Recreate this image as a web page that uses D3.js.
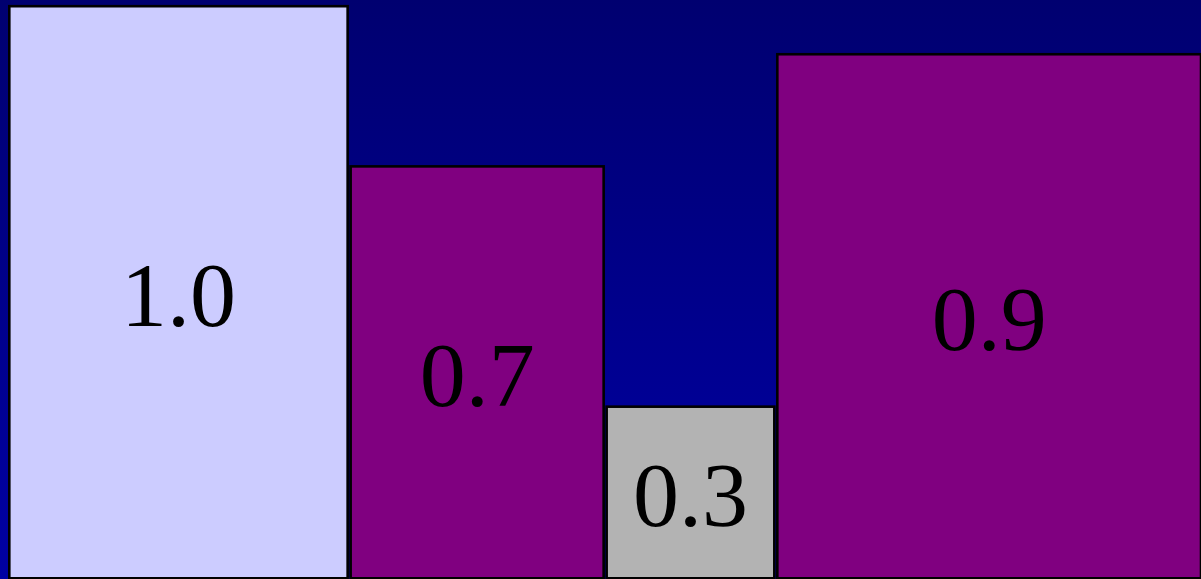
<!DOCTYPE html>
<html>
<head>
<meta charset="utf-8">
<script src="https://cdn.jsdelivr.net/npm/d3@7"></script>
<style>
html, body { margin: 0; padding: 0; overflow: hidden; background: #000080; }
svg { display: block; }
</style>
</head>
<body>
<svg id="chart" width="1201" height="579"></svg>
<script>
const categories = ["A", "B", "C", "D"];
const widths = [4, 3, 2, 5];
const values = [1.0, 0.72, 0.30, 0.916];
const colors = ["#ccccff", "#800080", "#b3b3b3", "#800080"];

const W = 1201, H = 579;
const svg = d3.select("#chart");

const defs = svg.append("defs");
const grad = defs.append("linearGradient").attr("id", "bg")
  .attr("x1", 0).attr("y1", 0).attr("x2", 0).attr("y2", 1);
grad.append("stop").attr("offset", "0%").attr("stop-color", "#000070");
grad.append("stop").attr("offset", "100%").attr("stop-color", "#0000a4");
svg.append("rect").attr("width", W).attr("height", H).attr("fill", "url(#bg)");

const total = d3.sum(widths);
const cum = d3.cumsum([0, ...widths]);
const x = d3.scaleLinear().domain([0, total]).range([7.8, 1202.5]);
const y = d3.scaleLinear().domain([0, 1]).range([578.3, 6.2]);
const gap = 1.5;
const fmt = d3.format(".1f");

const data = categories.map((c, i) => ({
  c, v: values[i], x0: cum[i], x1: cum[i + 1], color: colors[i]
}));

const g = svg.append("g");
g.selectAll("rect.bar").data(data).join("rect")
  .attr("class", "bar")
  .attr("x", d => x(d.x0) + gap)
  .attr("width", d => x(d.x1) - x(d.x0) - 2 * gap)
  .attr("y", d => y(d.v))
  .attr("height", d => y(0) - y(d.v))
  .attr("fill", d => d.color)
  .attr("stroke", "#000")
  .attr("stroke-width", 2.6);

g.selectAll("text.lbl").data(data).join("text")
  .attr("class", "lbl")
  .attr("x", d => (x(d.x0) + x(d.x1)) / 2)
  .attr("y", d => (y(d.v) + y(0)) / 2 + 3)
  .attr("text-anchor", "middle")
  .attr("dominant-baseline", "central")
  .attr("font-family", "'Liberation Serif', 'Times New Roman', serif")
  .attr("font-size", 92)
  .attr("fill", "#000")
  .text(d => fmt(d.v));
</script>
</body>
</html>
